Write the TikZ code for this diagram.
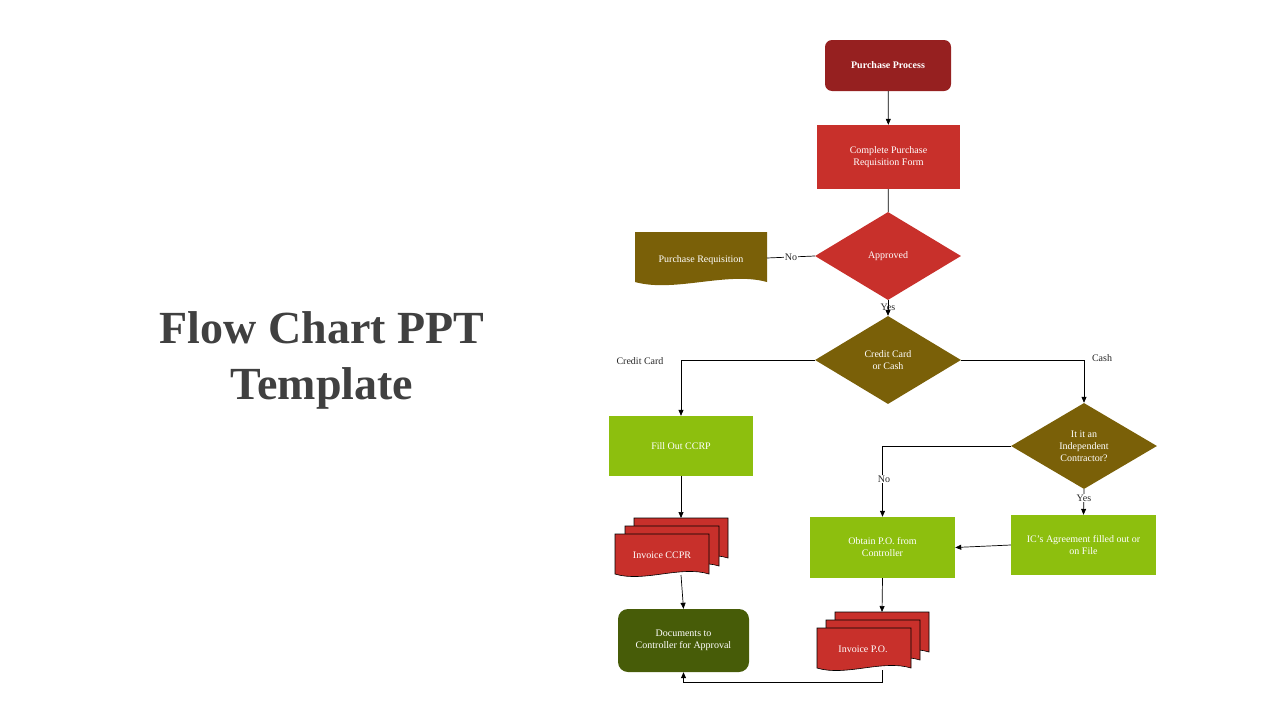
\documentclass[tikz,border=0pt]{standalone}
\usepackage{fontspec}
\setmainfont{Liberation Serif}
\usetikzlibrary{shapes.geometric,arrows.meta}
\definecolor{cdred}{HTML}{962020}
\definecolor{cred}{HTML}{C8302B}
\definecolor{colive}{HTML}{7A6008}
\definecolor{cgreen}{HTML}{8DBF0E}
\definecolor{cdgreen}{HTML}{475C08}
\newcommand\wdoc[6]{\path[#6,fill=#5] (#1,#2) -- ++(#3,0) -- ++(0,#4) .. controls +(-0.3*#3,-0.22*#4) and +(0.3*#3,0.22*#4) .. (#1,#2+#4) -- cycle;}
\begin{document}
\begin{tikzpicture}[x=1pt,y=-1pt,
 txt/.style={text=white,font=\fontsize{10}{12}\selectfont,align=center},
 lbl/.style={font=\fontsize{10}{12}\selectfont,text=black!85},
 boxs/.style={txt,draw=none,inner sep=0pt},
 dia/.style={txt,diamond,minimum width=146pt,minimum height=88pt,inner sep=0pt,aspect=1.66},
 arr/.style={-{Triangle[length=6pt,width=5pt]},line width=0.7pt},
 ln/.style={line width=0.7pt}]
\useasboundingbox (0,0) rectangle (1280,720);
\node[font=\fontsize{46}{56}\selectfont\bfseries,text=black!75,align=center] (title) at (322,360) {Flow Chart PPT\\Template};
\node[boxs,fill=cdred,rounded corners=7pt,minimum width=126pt,minimum height=51pt,font=\fontsize{10}{12}\selectfont\bfseries] (pp) at (888,65.5) {Purchase Process};
\node[boxs,fill=cred,minimum width=143pt,minimum height=64pt] (cp) at (888.5,157) {Complete Purchase\\Requisition Form};
\node[dia,fill=cred] (ap) at (888,256) {Approved};
\wdoc{635}{232}{132}{50}{colive}{draw=none}
\node[txt] (pr) at (701,260) {Purchase Requisition};
\coordinate (prr) at (767,258);
\node[dia,fill=colive] (cc) at (888,360) {Credit Card\\or Cash};
\node[dia,fill=colive,minimum height=86pt] (ic) at (1084,446) {It it an\\Independent\\Contractor?};
\node[boxs,fill=cgreen,minimum width=144pt,minimum height=60pt] (fo) at (681,446) {Fill Out CCRP};
\node[boxs,fill=cgreen,minimum width=145pt,minimum height=61pt] (ob) at (882.5,547.5) {Obtain P.O. from\\Controller};
\node[boxs,fill=cgreen,minimum width=145pt,minimum height=60pt] (ica) at (1083.5,545) {IC's Agreement filled out or\\on File};
\node[boxs,fill=cdgreen,rounded corners=10pt,minimum width=131pt,minimum height=63pt] (dc) at (683.5,640.5) {Documents to\\Controller for Approval};
% multidocs
\wdoc{634}{518}{94}{40}{cred}{draw=black,line width=0.6pt}
\wdoc{625}{526}{94}{40}{cred}{draw=black,line width=0.6pt}
\wdoc{615}{534}{94}{40}{cred}{draw=black,line width=0.6pt}
\node[txt] (iccpr) at (662,555) {Invoice CCPR};
\coordinate (iccT) at (681,518);
\coordinate (iccB) at (681,575);
\wdoc{835}{612}{94}{40}{cred}{draw=black,line width=0.6pt}
\wdoc{826}{620}{94}{40}{cred}{draw=black,line width=0.6pt}
\wdoc{817}{628}{94}{40}{cred}{draw=black,line width=0.6pt}
\node[txt] (ipo) at (863,649) {Invoice P.O.};
\coordinate (ipoT) at (882,612);
\coordinate (ipoB) at (882,670);
% connectors
\draw[arr] (pp) -- (cp);
\draw[ln] (cp) -- (ap);
\draw[ln] (ap.west) -- (prr) node[midway,fill=white,lbl,inner sep=1pt] {No};
\draw[arr] (ap.south) -- (cc.north);
\node[lbl] (yes1) at (888,307) {Yes};
\draw[arr] (cc.west) -| (fo.north);
\node[lbl] (lcc) at (640,361) {Credit Card};
\draw[arr] (cc.east) -| (ic.north);
\node[lbl] (lcash) at (1102,358) {Cash};
\draw[arr] (ic.west) -| (ob.north);
\node[lbl,fill=white,inner sep=1pt] (lno2) at (884,479) {No};
\draw[arr] (ic.south) -- (ica.north);
\node[lbl,fill=white,inner sep=1pt] (lyes2) at (1084,498) {Yes};
\draw[arr] (ica.west) -- (ob.east);
\draw[arr] (fo.south) -- (iccT);
\draw[arr] (iccB) -- (dc.north);
\draw[arr] (ob.south) -- (ipoT);
\draw[arr] (ipoB) -- (882,682) -| (dc.south);
\end{tikzpicture}
\end{document}
